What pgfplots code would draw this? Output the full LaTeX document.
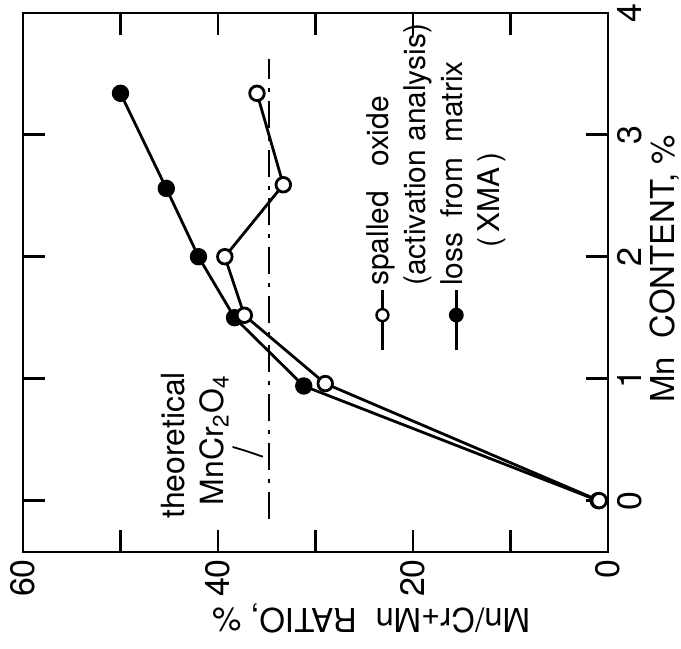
\documentclass[border=0pt]{standalone}
\usepackage{pgfplots}
\pgfplotsset{compat=1.18}
\usepackage{fontspec}
\setmainfont{TeX Gyre Heros}
\begin{document}
\begin{tikzpicture}[rotate=90, transform shape]
\begin{axis}[
  at={(0pt,0pt)}, anchor=south west,
  scale only axis,
  width=270pt, height=293pt,
  xmin=-0.42, xmax=4, ymin=0, ymax=60,
  xtick={0,1,2,3,4},
  ytick={0,10,20,30,40,50,60},
  yticklabels={0,,20,,40,,60},
  tick align=inside,
  major tick length=11pt,
  tick style={line width=1.3pt, black},
  axis line style={line width=1.3pt},
  /pgf/number format/assume math mode=true,
  ticklabel style={font=\fontsize{17}{17}\selectfont},
  xticklabel style={inner sep=4.5pt},
  yticklabel style={inner sep=3.5pt},
  xlabel={Mn\ \ CONTENT, \%},
  ylabel={Mn/Cr+Mn\ \ RATIO, \%},
  label style={font=\fontsize{16.5}{16.5}\selectfont, inner sep=0pt},
  xlabel style={at={(axis description cs:0.525,-0.0717)}, anchor=north},
  ylabel style={at={(axis description cs:-0.1056,0.405)}, anchor=base},
  legend cell align=left,
  legend style={at={(axis cs:1.22,24.4)}, anchor=north west, draw=none, fill=none,
    inner sep=0pt, row sep=6.5pt, column sep=1.5pt,
    nodes={inner sep=0pt, text height=9pt, text depth=3pt},
    font=\fontsize{15}{15}\selectfont},
  legend image code/.code={
    \draw[mark repeat=2, mark phase=2, #1, mark size=3pt]
      plot coordinates {(0pt,0pt) (17.5pt,0pt) (30pt,0pt)};
  },
]
% theoretical MnCr2O4 line
\addplot[black, line width=1pt, dash pattern=on 13.5pt off 4.5pt on 2pt off 4.5pt, forget plot]
  coordinates {(-0.15,34.8) (3.62,34.8)};
% loss from matrix (XMA), filled
\addplot[black, line width=1.4pt, mark=*, mark size=3.65pt, mark options={fill=black, solid}, forget plot]
  coordinates {(0,1.0) (0.94,31.2) (1.50,38.3) (2.0,42.0) (2.56,45.3) (3.34,50.0)};
% spalled oxide, open
\addplot[black, line width=1.4pt, mark=*, mark size=3.65pt, mark options={fill=white, solid}, forget plot]
  coordinates {(0,0.9) (0.96,29.0) (1.52,37.3) (2.0,39.3) (2.59,33.3) (3.34,36.0)};
\addlegendimage{black, line width=1.4pt, mark=*, mark options={fill=white, line width=1.2pt}}
\addlegendentry{spalled\hspace{0.8em}oxide}
\addlegendimage{empty legend}
\addlegendentry{(activation analysis)}
\addlegendimage{black, line width=1.4pt, mark=*, mark options={fill=black}}
\addlegendentry{loss\hspace{0.5em}from\hspace{0.5em}matrix}
\addlegendimage{empty legend}
\addlegendentry{\hspace*{19pt}(\,XMA\,)}
% annotation
\node[anchor=west, inner sep=0pt, font=\fontsize{16}{16}\selectfont] at (axis cs:-0.15,44.6) {theoretical};
\node[anchor=west, inner sep=0pt, font=\fontsize{16}{16}\selectfont] at (axis cs:-0.04,40.4) {MnCr\textsubscript{2}O\textsubscript{4}};
\draw[line width=0.9pt] (axis cs:0.44,38.5) .. controls (axis cs:0.41,37.2) .. (axis cs:0.36,35.4);
\end{axis}
\pgfresetboundingbox
\path[use as bounding box] (-48.26pt,-36.58pt) -- (276.41pt,304.52pt);
\end{tikzpicture}
\end{document}
